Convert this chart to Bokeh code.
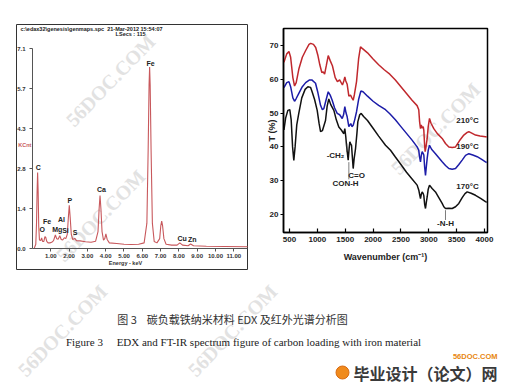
import math
from bokeh.plotting import figure
from bokeh.layouts import row, column
from bokeh.models import Range1d, FixedTicker, NumeralTickFormatter, Spacer
from bokeh.core.properties import value
from bokeh.embed import file_html
from bokeh.resources import INLINE

# ---------------- EDX spectrum (left) ----------------
edx_kev = [0.10, 0.18, 0.22, 0.25, 0.28, 0.31, 0.34, 0.38, 0.45, 0.50, 0.55, 0.62, 0.68, 0.72,
           0.78, 0.85, 0.95, 1.05, 1.15, 1.25, 1.32, 1.40, 1.49, 1.57, 1.65, 1.74, 1.82, 1.90,
           1.96, 2.01, 2.06, 2.12, 2.20, 2.31, 2.40, 2.60, 2.90, 3.20, 3.45, 3.58, 3.64, 3.69,
           3.74, 3.80, 3.88, 3.95, 4.01, 4.08, 4.20, 4.60, 5.00, 5.40, 5.80, 6.10, 6.25, 6.32,
           6.37, 6.40, 6.43, 6.48, 6.55, 6.65, 6.80, 6.95, 7.01, 7.06, 7.11, 7.18, 7.30, 7.60,
           7.90, 8.05, 8.20, 8.50, 8.64, 8.80, 9.50, 10.50, 11.75]
edx_kcnt = [0.02, 0.15, 0.90, 2.00, 2.70, 2.00, 0.80, 0.30, 0.28, 0.38, 0.25, 0.25, 0.42, 0.40,
            0.25, 0.20, 0.20, 0.22, 0.28, 0.48, 0.35, 0.33, 0.45, 0.32, 0.30, 0.38, 0.35, 0.50,
            1.10, 1.53, 1.10, 0.50, 0.32, 0.36, 0.28, 0.27, 0.24, 0.22, 0.26, 0.60, 1.40, 1.88,
            1.40, 0.60, 0.30, 0.35, 0.52, 0.32, 0.20, 0.18, 0.15, 0.14, 0.15, 0.20, 0.90, 3.50,
            5.80, 6.44, 5.80, 3.50, 0.90, 0.25, 0.20, 0.35, 0.80, 0.97, 0.80, 0.35, 0.15, 0.12,
            0.12, 0.20, 0.12, 0.10, 0.16, 0.10, 0.08, 0.07, 0.06]
edx_peak_names = ["C", "O", "Fe", "Mg", "Al", "Si", "P", "S", "Ca", "Fe", "Cu", "Zn"]
edx_peak_kev = [0.31, 0.53, 0.80, 1.35, 1.58, 1.80, 2.04, 2.33, 3.77, 6.45, 8.18, 8.73]
edx_peak_kcnt = [2.88, 0.67, 0.97, 0.67, 1.03, 0.64, 1.70, 0.56, 2.08, 6.57, 0.34, 0.32]
edx_xticks = [1, 2, 3, 4, 5, 6, 7, 8, 9, 10, 11]
edx_yticks = [0.0, 1.42, 2.84, 4.26, 5.68, 7.1]
edx_ytick_labels = ["0.0", "1.4", "2.8", "4.3", "5.7", "7.1"]
edx_texts = ["c:\\edax32\\genesis\\genmaps.spc\u00a0\u00a021-Mar-2012 15:54:07", "LSecs : 115", "KCnt", "Energy - keV"]
edx_text_kev = [-0.66, 5.36, -0.78, 5.08]
edx_text_kcnt = [7.81, 7.60, 3.66, -0.53]
edx_text_align = ["left", "center", "left", "center"]
edx_text_color = ["#222222", "#222222", "#c8585c", "#333333"]

# ---------------- FT-IR spectra (right) ----------------
wn_210 = [400, 450, 490, 520, 560, 590, 620, 670, 730, 790, 850, 880, 930, 970, 1010, 1045, 1080,
          1105, 1130, 1160, 1195, 1230, 1270, 1320, 1360, 1400, 1450, 1475, 1493, 1510, 1535, 1565,
          1595, 1620, 1643, 1665, 1703, 1740, 1774, 1800, 1900, 2000, 2100, 2200, 2300, 2400, 2500,
          2600, 2700, 2790, 2820, 2835, 2851, 2865, 2881, 2900, 2911, 2925, 2935, 2950, 2971, 2990,
          3013, 3040, 3090, 3150, 3240, 3300, 3360, 3420, 3480, 3550, 3629, 3690, 3719, 3780, 3839,
          3920, 4018, 4040]
t_210 = [65.0, 67.5, 68.2, 66.5, 60.5, 58.0, 59.0, 63.2, 66.5, 68.5, 70.3, 70.6, 70.3, 69.4, 67.0,
         64.2, 62.0, 62.2, 61.5, 64.0, 67.0, 65.5, 64.0, 60.5, 59.3, 59.8, 58.3, 59.5, 60.7, 59.5,
         58.5, 55.0, 55.3, 54.5, 53.8, 55.5, 59.3, 66.0, 69.6, 69.2, 67.8, 66.0, 64.3, 62.8, 61.5,
         59.8, 57.8, 55.8, 53.8, 52.2, 51.0, 47.5, 45.4, 46.5, 45.6, 46.0, 44.9, 40.5, 38.6, 40.0,
         42.5, 46.0, 48.4, 47.0, 45.4, 44.0, 42.5, 41.0, 40.0, 39.8, 40.0, 41.8, 43.5, 44.3, 44.5,
         44.0, 43.5, 43.2, 43.0, 42.9]
wn_190 = [400, 450, 490, 520, 560, 590, 620, 667, 730, 790, 860, 900, 967, 1010, 1057, 1090, 1116,
          1150, 1195, 1230, 1266, 1310, 1356, 1400, 1446, 1470, 1493, 1515, 1535, 1565, 1600, 1620,
          1643, 1670, 1703, 1740, 1780, 1820, 1900, 2000, 2100, 2223, 2300, 2400, 2500, 2600, 2700,
          2791, 2820, 2835, 2851, 2866, 2881, 2900, 2911, 2926, 2941, 2955, 2971, 2990, 3013, 3050,
          3120, 3180, 3240, 3300, 3360, 3420, 3480, 3540, 3599, 3660, 3719, 3790, 3869, 3950, 4018,
          4040]
t_190 = [57.5, 59.0, 59.3, 57.8, 54.5, 53.5, 54.3, 55.8, 57.8, 59.0, 59.8, 59.8, 58.8, 56.0, 52.3,
         51.0, 51.3, 53.5, 56.3, 55.3, 53.8, 51.5, 49.9, 49.5, 48.4, 49.5, 51.9, 50.0, 48.9, 46.0,
         46.9, 46.0, 46.4, 48.0, 50.4, 54.0, 56.5, 56.3, 55.0, 53.5, 52.3, 51.0, 49.8, 48.0, 46.0,
         44.0, 42.0, 40.0, 39.0, 37.0, 35.6, 37.5, 38.6, 38.0, 37.6, 34.0, 31.6, 34.0, 36.6, 39.0,
         40.5, 39.3, 38.0, 36.8, 35.6, 34.5, 33.6, 33.4, 33.6, 34.8, 36.1, 37.5, 38.0, 37.6, 37.1,
         36.3, 35.6, 35.4]
wn_170 = [400, 430, 470, 505, 530, 555, 577, 600, 630, 667, 720, 780, 830, 877, 907, 950, 997, 1030,
          1057, 1090, 1146, 1175, 1205, 1240, 1296, 1340, 1385, 1430, 1475, 1493, 1510, 1523, 1553,
          1570, 1583, 1600, 1613, 1628, 1643, 1660, 1685, 1710, 1726, 1760, 1787, 1830, 1900, 2000,
          2100, 2223, 2313, 2400, 2500, 2600, 2700, 2791, 2821, 2835, 2851, 2866, 2881, 2900, 2911,
          2926, 2941, 2955, 2971, 2990, 3013, 3060, 3120, 3180, 3240, 3270, 3300, 3360, 3420, 3480,
          3539, 3600, 3650, 3689, 3760, 3839, 3930, 4018, 4040]
t_170 = [45.0, 48.5, 50.8, 51.0, 48.0, 40.0, 36.0, 40.0, 46.5, 50.0, 54.5, 57.0, 57.8, 57.6, 56.2,
         54.0, 50.8, 47.0, 44.5, 44.8, 47.8, 52.0, 54.2, 52.5, 50.8, 48.0, 45.9, 45.0, 43.9, 45.4,
         43.0, 40.5, 36.1, 39.5, 41.5, 40.8, 40.5, 37.0, 33.6, 36.5, 39.5, 44.0, 47.4, 49.5, 49.9,
         49.0, 47.8, 45.5, 43.2, 40.5, 39.0, 37.0, 34.8, 32.5, 30.5, 28.7, 27.2, 26.0, 24.7, 26.0,
         26.7, 26.2, 25.6, 23.0, 21.8, 23.5, 25.2, 27.5, 28.7, 27.7, 26.7, 25.0, 23.3, 22.3, 21.8,
         21.9, 21.8, 22.3, 23.3, 25.0, 26.2, 26.7, 26.3, 25.7, 24.8, 23.8, 23.6]
ir_xticks = [500, 1000, 1500, 2000, 2500, 3000, 3500, 4000]
ir_yticks = [20, 30, 40, 50, 60, 70]
ir_ann_text = ["210°C", "190°C", "170°C", "-N-H", "-CH₂", "C=O", "CON-H"]
ir_ann_wn = [3695, 3695, 3695, 3300, 1326, 1703, 1505]
ir_ann_t = [47.8, 40.1, 28.3, 17.3, 37.5, 31.6, 29.2]
ir_lead_wn = [1530, 1565, 3300]
ir_lead_t0 = [38.5, 30.4, 18.4]
ir_lead_t1 = [41.0, 35.5, 21.3]

# ---------------- captions / page marks ----------------
NB = "\u00a0"
caption_lines = ["图 3" + NB * 4 + "碳负载铁纳米材料 EDX 及红外光谱分析图",
                 "Figure 3" + NB * 5 + "EDX and FT-IR spectrum figure of carbon loading with iron material"]
logo_small = "56DOC.COM"
logo_big = "毕业设计（论文）网"
watermark = "56DOC.COM"
wm_edx_kev = [4.26, 3.72]
wm_edx_kcnt = [5.96, 1.17]
wm_ir_wn = [3121]
wm_ir_t = [45.4]
wm_cap_x = [62, 232]
wm_cap_y = [55, 55]

SANS = "Liberation Sans"
WM_COLOR = "#e2e2e2"
WM_SIZE = "20px"
WM_ANGLE = math.radians(46)

# ===== EDX figure: frame is the boxed panel, axes drawn at fixed locations =====
edx = figure(width=232, height=246, title=None, min_border=0,
             x_range=Range1d(-0.874, 11.803), y_range=Range1d(-0.781, 7.952),
             output_backend="svg", toolbar_location=None)
edx.grid.visible = False
edx.outline_line_color = "#333333"
edx.outline_line_width = 1
edx.background_fill_color = "white"
edx.border_fill_color = "white"
edx.text(x=wm_edx_kev, y=wm_edx_kcnt, text=[watermark] * len(wm_edx_kev), angle=WM_ANGLE,
         text_align="center", text_baseline="middle", text_font=value("Liberation Serif"),
         text_font_size=WM_SIZE, text_font_style="bold", text_color=WM_COLOR)
edx.line(edx_kev, edx_kcnt, line_color="#c8585c", line_width=1.1)
edx.text(x=edx_peak_kev, y=edx_peak_kcnt, text=edx_peak_names, text_align="center",
         text_baseline="middle", text_font=value(SANS), text_font_size="7px",
         text_font_style="bold", text_color="#222222")
edx.text(x=edx_text_kev, y=edx_text_kcnt, text=edx_texts, text_align=edx_text_align,
         text_color=edx_text_color, text_baseline="middle", text_font=value(SANS),
         text_font_size="5.5px", text_font_style="bold")
edx.xaxis.ticker = FixedTicker(ticks=edx_xticks)
edx.xaxis.formatter = NumeralTickFormatter(format="0.00")
edx.yaxis.ticker = FixedTicker(ticks=edx_yticks)
edx.yaxis.major_label_overrides = {t: s for t, s in zip(edx_yticks, edx_ytick_labels)}
edx.xaxis.fixed_location = 0
edx.yaxis.fixed_location = 0
edx.xaxis.bounds = (0, 11.75)
edx.yaxis.bounds = (0, 7.1)
for ax in (edx.xaxis, edx.yaxis):
    ax.minor_tick_line_color = None
    ax.axis_line_color = "#555555"
    ax.major_tick_line_color = "#555555"
    ax.major_tick_in = 0
    ax.major_tick_out = 3
    ax.major_label_text_font = SANS
    ax.major_label_text_font_style = "bold"
    ax.major_label_text_font_size = "6px"
    ax.major_label_text_color = "#333333"
edx.yaxis.major_label_standoff = 4
edx.xaxis.major_label_standoff = 2

# ===== FT-IR figure =====
ir = figure(width=256, height=275, title=None,
            min_border_left=35, min_border_right=17, min_border_top=28, min_border_bottom=43,
            x_range=Range1d(392, 4054), y_range=Range1d(14.7, 75.0),
            output_backend="svg", toolbar_location=None)
ir.grid.visible = False
ir.outline_line_color = "black"
ir.outline_line_width = 1.5
ir.background_fill_color = "white"
ir.border_fill_color = "white"
ir.text(x=wm_ir_wn, y=wm_ir_t, text=[watermark] * len(wm_ir_wn), angle=WM_ANGLE,
        text_align="center", text_baseline="middle", text_font=value("Liberation Serif"),
        text_font_size=WM_SIZE, text_font_style="bold", text_color=WM_COLOR)
ir.line(wn_210, t_210, line_color="#c0282d", line_width=1.5)
ir.line(wn_190, t_190, line_color="#1c1ca8", line_width=1.5)
ir.line(wn_170, t_170, line_color="#111111", line_width=1.5)
ir.segment(x0=ir_lead_wn, y0=ir_lead_t0, x1=ir_lead_wn, y1=ir_lead_t1, line_color="#444444", line_width=0.7)
ir.text(x=ir_ann_wn, y=ir_ann_t, text=ir_ann_text, text_align="center", text_baseline="middle",
        text_font=value(SANS), text_font_size="8px", text_font_style="bold", text_color="#222222")
ir.xaxis.ticker = FixedTicker(ticks=ir_xticks)
ir.yaxis.ticker = FixedTicker(ticks=ir_yticks)
for ax in (ir.xaxis, ir.yaxis):
    ax.minor_tick_line_color = None
    ax.axis_line_color = "black"
    ax.axis_line_width = 1.5
    ax.major_tick_line_color = "black"
    ax.major_tick_line_width = 1.2
    ax.major_label_text_font = SANS
    ax.major_label_text_font_style = "bold"
    ax.major_label_text_font_size = "8px"
    ax.major_label_text_color = "#222222"
    ax.axis_label_text_font = SANS
    ax.axis_label_text_font_style = "bold"
    ax.axis_label_text_color = "#222222"
    ax.axis_label_text_font_size = "9px"
ir.xaxis.major_tick_in = 4
ir.xaxis.major_tick_out = 0
ir.xaxis.major_label_standoff = 4
ir.yaxis.major_tick_in = 0
ir.yaxis.major_tick_out = 3
ir.yaxis.major_label_standoff = 2
ir.xaxis.axis_label = "Wavenumber (cm⁻¹)"
ir.xaxis.axis_label_standoff = 7
ir.yaxis.axis_label = "T (%)"
ir.yaxis.axis_label_standoff = -10

# ===== caption strip =====
cap = figure(width=504, height=109, title=None, x_range=Range1d(0, 504), y_range=Range1d(109, 0),
             min_border=0, output_backend="svg", toolbar_location=None)
cap.axis.visible = False
cap.grid.visible = False
cap.outline_line_color = None
cap.background_fill_color = "white"
cap.border_fill_color = "white"
cap.text(x=wm_cap_x, y=wm_cap_y, text=[watermark] * len(wm_cap_x), angle=WM_ANGLE,
         text_align="center", text_baseline="middle", text_font=value("Liberation Serif"),
         text_font_size=WM_SIZE, text_font_style="bold", text_color=WM_COLOR)
cap.text(x=[232], y=[43], text=[caption_lines[0]], text_align="center", text_baseline="middle",
         text_font=value("Noto Sans CJK SC"), text_font_size="11px", text_color="#333333")
cap.text(x=[243], y=[66], text=[caption_lines[1]], text_align="center", text_baseline="middle",
         text_font=value("Liberation Serif"), text_font_size="11px", text_color="#222222")
cap.scatter(x=[342], y=[97], size=13, marker="circle", fill_color="#f08a1c", line_color="#d86a10")
cap.text(x=[497], y=[81], text=[logo_small], text_align="right", text_baseline="middle",
         text_font=value(SANS), text_font_size="7.5px", text_font_style="bold", text_color="#e8860f")
cap.text(x=[497], y=[97], text=[logo_big], text_align="right", text_baseline="middle",
         text_font=value("Noto Sans CJK SC"), text_font_size="16px", text_font_style="bold",
         text_color="#3a3a3a")

layout = column(row(Spacer(width=16), column(Spacer(height=24), edx), ir), cap)
open("out.html", "w").write(file_html(layout, INLINE))
